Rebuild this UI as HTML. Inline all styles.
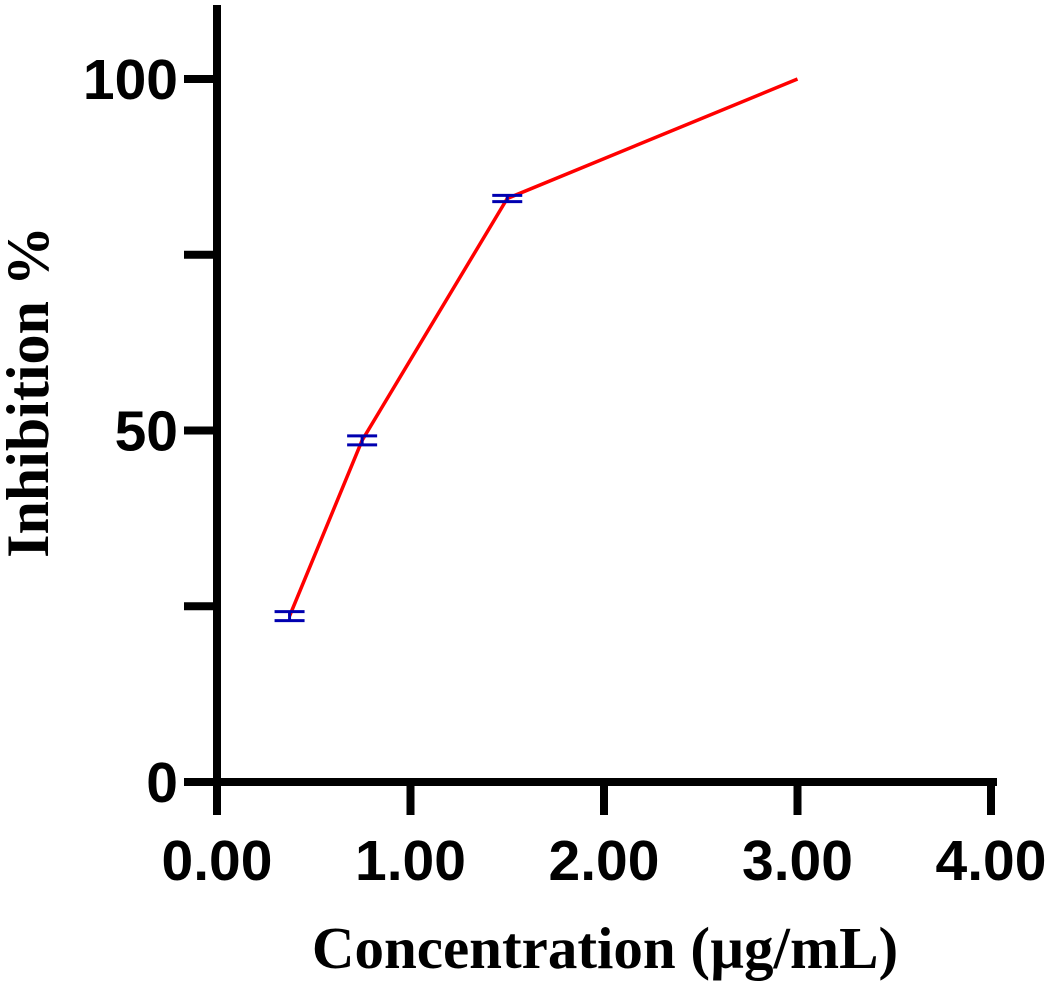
<!DOCTYPE html>
<html><head><meta charset="utf-8"><style>
body{margin:0;background:#fff}
svg text{font-weight:bold}
</style></head><body>
<svg id="chart" width="1052" height="984" xmlns="http://www.w3.org/2000/svg">
<g id="axes"></g><g id="marks"></g>
</svg>
<script>
const xVals=[0.375,0.75,1.5,3.0];
const yVals=[23.6,48.6,83.0,100];
const yErr=[0.5,0.5,0.3,0];
const xTicks=[0,1,2,3,4];
const xTickLabels=["0.00","1.00","2.00","3.00","4.00"];
const yTicks=[0,50,100];
const yMinor=[25,75];
const NS="http://www.w3.org/2000/svg";
const X=v=>217+v*193.5;
const Y=v=>782-v*7.03;
const ax=document.getElementById('axes'),mk=document.getElementById('marks');
function el(t,a,p){const e=document.createElementNS(NS,t);for(const k in a)e.setAttribute(k,a[k]);p.appendChild(e);return e;}
let l=el('line',{x1:217,y1:5,x2:217,y2:786,stroke:'#000','stroke-width':8},ax);


l=el('line',{x1:213,y1:782,x2:997,y2:782,stroke:'#000','stroke-width':8},ax);


xTicks.forEach((v,i)=>{
 const t=el('line',{x1:X(v),y1:782,x2:X(v),y2:815,stroke:'#000','stroke-width':8},ax);
 
 
 const s=el('text',{x:X(v),y:880,'text-anchor':'middle','font-family':'Liberation Sans, sans-serif','font-size':57},ax);
 s.textContent=xTickLabels[i];
 
 
});
yTicks.concat(yMinor).forEach(v=>{
 const t=el('line',{x1:184,y1:Y(v),x2:217,y2:Y(v),stroke:'#000','stroke-width':8},ax);
 
 
});
yTicks.forEach(v=>{
 const s=el('text',{x:178,y:Y(v)+20,'text-anchor':'end','font-family':'Liberation Sans, sans-serif','font-size':57},ax);
 s.textContent=String(v);
 
 
});
let t=el('text',{x:605,y:968,'text-anchor':'middle','font-family':'Liberation Serif, serif','font-size':59},ax);
t.textContent='Concentration (µg/mL)';


t=el('text',{x:0,y:0,transform:'translate(48,392) rotate(-90)','text-anchor':'middle','font-family':'Liberation Serif, serif','font-size':60},ax);
t.textContent='Inhibition %';


const pl=el('polyline',{points:xVals.map((v,i)=>X(v)+','+Y(yVals[i])).join(' '),fill:'none',stroke:'#f00','stroke-width':3.5},mk);


xVals.forEach((v,i)=>{
 if(!yErr[i])return;
 const g=el('g',{},mk);
 
 
 const cx=X(v),top=Y(yVals[i]+yErr[i])-1,bot=Y(yVals[i]-yErr[i])+1;
 el('line',{x1:cx-15,y1:top,x2:cx+15,y2:top,stroke:'#0000b0','stroke-width':3},g);
 el('line',{x1:cx-15,y1:bot,x2:cx+15,y2:bot,stroke:'#0000b0','stroke-width':3},g);
 el('line',{x1:cx,y1:top,x2:cx,y2:bot,stroke:'#0000b0','stroke-width':3},g);
});
</script>
</body></html>
